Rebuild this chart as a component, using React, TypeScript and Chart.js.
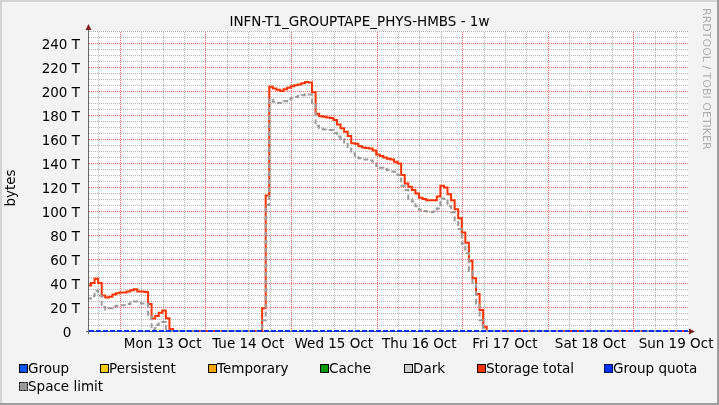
import React, { useEffect, useRef } from 'react';
import { Chart, registerables } from 'chart.js';

Chart.register(...registerables);

const chartTitle = 'INFN-T1_GROUPTAPE_PHYS-HMBS - 1w';
const yAxisTitle = 'bytes';
const watermark = 'RRDTOOL / TOBI OETIKER';

// hours relative to Mon 13 Oct 00:00
const viewStartHour = -8.66;
const viewEndHour = 159.34;
const firstStepHour = -9.1;

const dayLabels = ['Mon 13 Oct', 'Tue 14 Oct', 'Wed 15 Oct', 'Thu 16 Oct', 'Fri 17 Oct', 'Sat 18 Oct', 'Sun 19 Oct'];
const dayNoonHours = [12, 36, 60, 84, 108, 132, 156];

const yTickValues = [0, 20, 40, 60, 80, 100, 120, 140, 160, 180, 200, 220, 240];
const yTickLabels = ['0', '20 T', '40 T', '60 T', '80 T', '100 T', '120 T', '140 T', '160 T', '180 T', '200 T', '220 T', '240 T'];

// hourly values in T (one value per hour, starting at firstStepHour)
const storageTotal = [
  38, 40, 43.5, 40, 29.5, 28, 28.5, 30.5, 31.5, 32, 32, 33, 34, 34.7, 33, 33, 32.5, 22.5, 10.5, 12.5,
  15.3, 17, 10.6, 1.7, 0, 0, 0, 0, 0, 0, 0, 0, 0, 0, 0, 0, 0, 0, 0, 0,
  0, 0, 0, 0, 0, 0, 0, 0, 0, 19, 113, 203.6, 202, 201, 200, 201.5, 202.8, 204, 204.7, 205.5,
  206.4, 207.5, 207, 199, 181, 179, 178.6, 178, 177.5, 175.8, 172, 169, 166, 162.5, 156.5, 156, 154, 153, 152.5, 152,
  150.5, 147, 145.8, 144.5, 143.5, 143, 141, 139.5, 130, 123, 120.3, 117.5, 114.5, 111, 110, 109, 109, 109, 112, 121,
  119.5, 114, 109, 101.5, 94, 82, 73.5, 58.5, 44, 30.8, 17.5, 3.5, 0,
];
const spaceLimit = [
  27, 29, 33.5, 29.5, 20, 18, 19, 20.5, 21, 21.5, 21.5, 22.5, 23.5, 24.5, 23.5, 23, 22.5, 12, 1, 5,
  6.5, 7.5, 0.5, 0, 0, 0, 0, 0, 0, 0, 0, 0, 0, 0, 0, 0, 0, 0, 0, 0,
  0, 0, 0, 0, 0, 0, 0, 0, 0, 9, 105, 193, 191, 190, 190, 191.5, 193, 194, 195, 195.8,
  196.5, 197.2, 197, 190, 171, 169, 168, 167.5, 167.5, 165, 162, 160, 157, 152, 148, 146, 144, 143, 143, 142,
  141, 137.5, 136, 135, 134, 133, 132.7, 130, 121, 117.5, 110, 108, 104, 101, 100, 99.5, 99, 99.5, 102, 110.5,
  110, 104, 99, 92, 85, 73, 65, 50, 39, 23, 9, 0.5, 0,
];
const groupQuota = 0;

const legendLabels = ['Group', 'Persistent', 'Temporary', 'Cache', 'Dark', 'Storage total', 'Group quota', 'Space limit'];
const legendColors = ['#0055ff', '#ffcc00', '#ffa500', '#009900', '#cccccc', '#ff3300', '#0033ff', '#999999'];

const FONT = "'DejaVu Sans', sans-serif";
const FONT_SIZE = 13.5;
const MAJOR_GRID = '#f06868';
const MINOR_GRID = '#b4b4b4';

function toSteps(values: number[]) {
  const pts = values.map((v, k) => ({ x: firstStepHour + k, y: v }));
  pts.push({ x: viewEndHour, y: values[values.length - 1] });
  return pts;
}

const rrdPlugin = {
  id: 'rrdLook',
  beforeDraw(chart: any) {
    const { ctx, width, height, chartArea: a } = chart;
    ctx.save();
    ctx.fillStyle = '#f3f3f3';
    ctx.fillRect(0, 0, width, height);
    ctx.fillStyle = '#d4d4d4';
    ctx.fillRect(0, 0, width, 2);
    ctx.fillRect(0, 0, 2, height);
    ctx.fillStyle = '#9e9e9e';
    ctx.fillRect(0, height - 2, width, 2);
    ctx.fillRect(width - 2, 0, 2, height);
    ctx.fillStyle = '#ffffff';
    ctx.fillRect(a.left, a.top, a.right - a.left, a.bottom - a.top);
    ctx.restore();
  },
  beforeDatasetsDraw(chart: any) {
    const { ctx, chartArea: a, scales } = chart;
    const xs = scales.x;
    const ys = scales.y;
    const left = Math.round(a.left);
    const right = Math.round(a.right);
    const top = Math.round(a.top);
    const bottom = Math.round(a.bottom);
    ctx.save();
    // dotted grid drawn pixel by pixel from the scale ticks (minor first, major on top)
    const drawH = (major: boolean) => {
      ys.ticks.forEach((t: any) => {
        const isMajor = t.value % 20 === 0;
        if (isMajor !== major) return;
        const py = Math.round(ys.getPixelForValue(t.value));
        if (py >= bottom) return;
        ctx.fillStyle = major ? MAJOR_GRID : MINOR_GRID;
        for (let px = left; px < right; px += 2) ctx.fillRect(px, py, 1, 1);
      });
    };
    const drawV = (major: boolean) => {
      xs.ticks.forEach((t: any) => {
        const isMajor = t.value % 24 === 0;
        if (isMajor !== major) return;
        const px = Math.round(xs.getPixelForValue(t.value));
        if (px <= left || px >= right) return;
        ctx.fillStyle = major ? MAJOR_GRID : MINOR_GRID;
        for (let py = bottom - 1; py > top; py -= 2) ctx.fillRect(px, py, 1, 1);
      });
    };
    drawH(false);
    drawV(false);
    drawH(true);
    drawV(true);

    ctx.strokeStyle = '#666666';
    ctx.lineWidth = 1;
    ctx.beginPath();
    ctx.moveTo(a.left - 0.5, a.bottom + 3);
    ctx.lineTo(a.left - 0.5, a.top - 3);
    ctx.moveTo(a.left - 3, a.bottom + 0.5);
    ctx.lineTo(a.right + 4, a.bottom + 0.5);
    ctx.stroke();
    ctx.restore();
  },
  afterDraw(chart: any) {
    const { ctx, width, chartArea: a } = chart;
    ctx.save();
    // arrows
    ctx.fillStyle = '#7f1f1f';
    ctx.beginPath();
    ctx.moveTo(a.left - 3.5, a.top - 1);
    ctx.lineTo(a.left + 2.5, a.top - 1);
    ctx.lineTo(a.left - 0.5, a.top - 7);
    ctx.closePath();
    ctx.fill();
    ctx.beginPath();
    ctx.moveTo(a.right + 1, a.bottom - 2.5);
    ctx.lineTo(a.right + 1, a.bottom + 3.5);
    ctx.lineTo(a.right + 7, a.bottom + 0.5);
    ctx.closePath();
    ctx.fill();

    // title
    ctx.fillStyle = '#000000';
    ctx.font = `${FONT_SIZE}px ${FONT}`;
    ctx.textAlign = 'center';
    ctx.textBaseline = 'alphabetic';
    ctx.fillText(chartTitle, width / 2, 26);

    // y axis title
    ctx.save();
    ctx.translate(15, (a.top + a.bottom) / 2 + 7);
    ctx.rotate(-Math.PI / 2);
    ctx.textAlign = 'center';
    ctx.textBaseline = 'alphabetic';
    ctx.fillText(yAxisTitle, 0, 0);
    ctx.restore();

    // watermark
    ctx.save();
    ctx.translate(703, 8);
    ctx.rotate(Math.PI / 2);
    ctx.fillStyle = '#b0b0b0';
    ctx.font = `11px ${FONT}`;
    ctx.textAlign = 'left';
    ctx.textBaseline = 'alphabetic';
    ctx.fillText(watermark, 0, 0);
    ctx.restore();

    // legend
    const cols = [19, 100, 208, 320, 404, 477, 604, 19];
    const rows = [369.5, 369.5, 369.5, 369.5, 369.5, 369.5, 369.5, 387.5];
    ctx.font = `${FONT_SIZE}px ${FONT}`;
    ctx.textAlign = 'left';
    ctx.textBaseline = 'middle';
    legendLabels.forEach((label, i) => {
      const x = cols[i];
      const y = Math.round(rows[i]);
      ctx.fillStyle = legendColors[i];
      ctx.fillRect(x, y - 6, 9, 9);
      ctx.strokeStyle = '#000000';
      ctx.lineWidth = 1;
      if (i >= 6) ctx.setLineDash([2, 1]);
      else ctx.setLineDash([]);
      ctx.strokeRect(x + 0.5, y - 5.5, 8, 8);
      ctx.setLineDash([]);
      ctx.fillStyle = '#000000';
      ctx.fillText(label, x + 9, rows[i]);
    });
    ctx.restore();
  },
};

export default function App() {
  const ref = useRef<HTMLCanvasElement | null>(null);
  useEffect(() => {
    if (!ref.current) return;
    const xTicks: number[] = [];
    for (let h = -6; h <= viewEndHour; h += 6) xTicks.push(h);
    const yTicks: number[] = [];
    for (let v = 0; v <= 250; v += 5) yTicks.push(v);
    const clip = { left: 0, right: 0, top: 4, bottom: 4 };

    const chart = new Chart(ref.current, {
      type: 'line',
      data: {
        datasets: [
          {
            label: 'Group quota',
            data: [{ x: viewStartHour, y: groupQuota }, { x: viewEndHour, y: groupQuota }],
            borderColor: '#0033ff',
            borderWidth: 2,
            borderDash: [5, 2],
            pointRadius: 0,
            stepped: true,
            order: 0,
            clip,
          },
          {
            label: 'Space limit',
            data: toSteps(spaceLimit),
            borderColor: '#9a9a9a',
            borderWidth: 2,
            borderDash: [5, 3],
            pointRadius: 0,
            stepped: true,
            order: 1,
            clip,
          },
          {
            label: 'Storage total',
            data: toSteps(storageTotal),
            borderColor: '#ff3300',
            borderWidth: 2,
            pointRadius: 0,
            stepped: true,
            order: 2,
            clip,
          },
        ],
      } as any,
      options: {
        animation: false,
        responsive: false,
        events: [],
        layout: { padding: { left: 0, top: 31, right: 29, bottom: 44 } },
        plugins: {
          legend: { display: false },
          tooltip: { enabled: false },
          title: { display: false },
        },
        scales: {
          x: {
            type: 'linear',
            min: viewStartHour,
            max: viewEndHour,
            afterBuildTicks: (s: any) => {
              s.ticks = xTicks.map((v) => ({ value: v }));
            },
            afterFit: (s: any) => {
              s.height = 30;
            },
            ticks: {
              autoSkip: false,
              maxRotation: 0,
              minRotation: 0,
              padding: 5,
              color: '#000000',
              font: { family: FONT, size: FONT_SIZE },
              callback: (v: any) => {
                const i = dayNoonHours.indexOf(Number(v));
                return i >= 0 ? dayLabels[i] : '';
              },
            },
            grid: { display: false, drawTicks: false },
            border: { display: false },
          },
          y: {
            type: 'linear',
            min: 0,
            max: 250,
            afterBuildTicks: (s: any) => {
              s.ticks = yTicks.map((v) => ({ value: v }));
            },
            afterFit: (s: any) => {
              s.width = 89;
            },
            ticks: {
              autoSkip: false,
              padding: 9,
              labelOffset: 2,
              color: '#000000',
              font: { family: FONT, size: FONT_SIZE },
              callback: (v: any) => {
                const i = yTickValues.indexOf(Number(v));
                if (i < 0) return '';
                return i === 0 ? yTickLabels[i] + '\u00a0\u00a0' : yTickLabels[i];
              },
            },
            grid: { display: false, drawTicks: false },
            border: { display: false },
          },
        },
      } as any,
      plugins: [rrdPlugin],
    });
    return () => chart.destroy();
  }, []);

  return (
    <div style={{ position: 'fixed', left: 0, top: 0, width: 719, height: 405 }}>
      <canvas ref={ref} width={719} height={405} style={{ display: 'block', width: 719, height: 405 }} />
    </div>
  );
}
